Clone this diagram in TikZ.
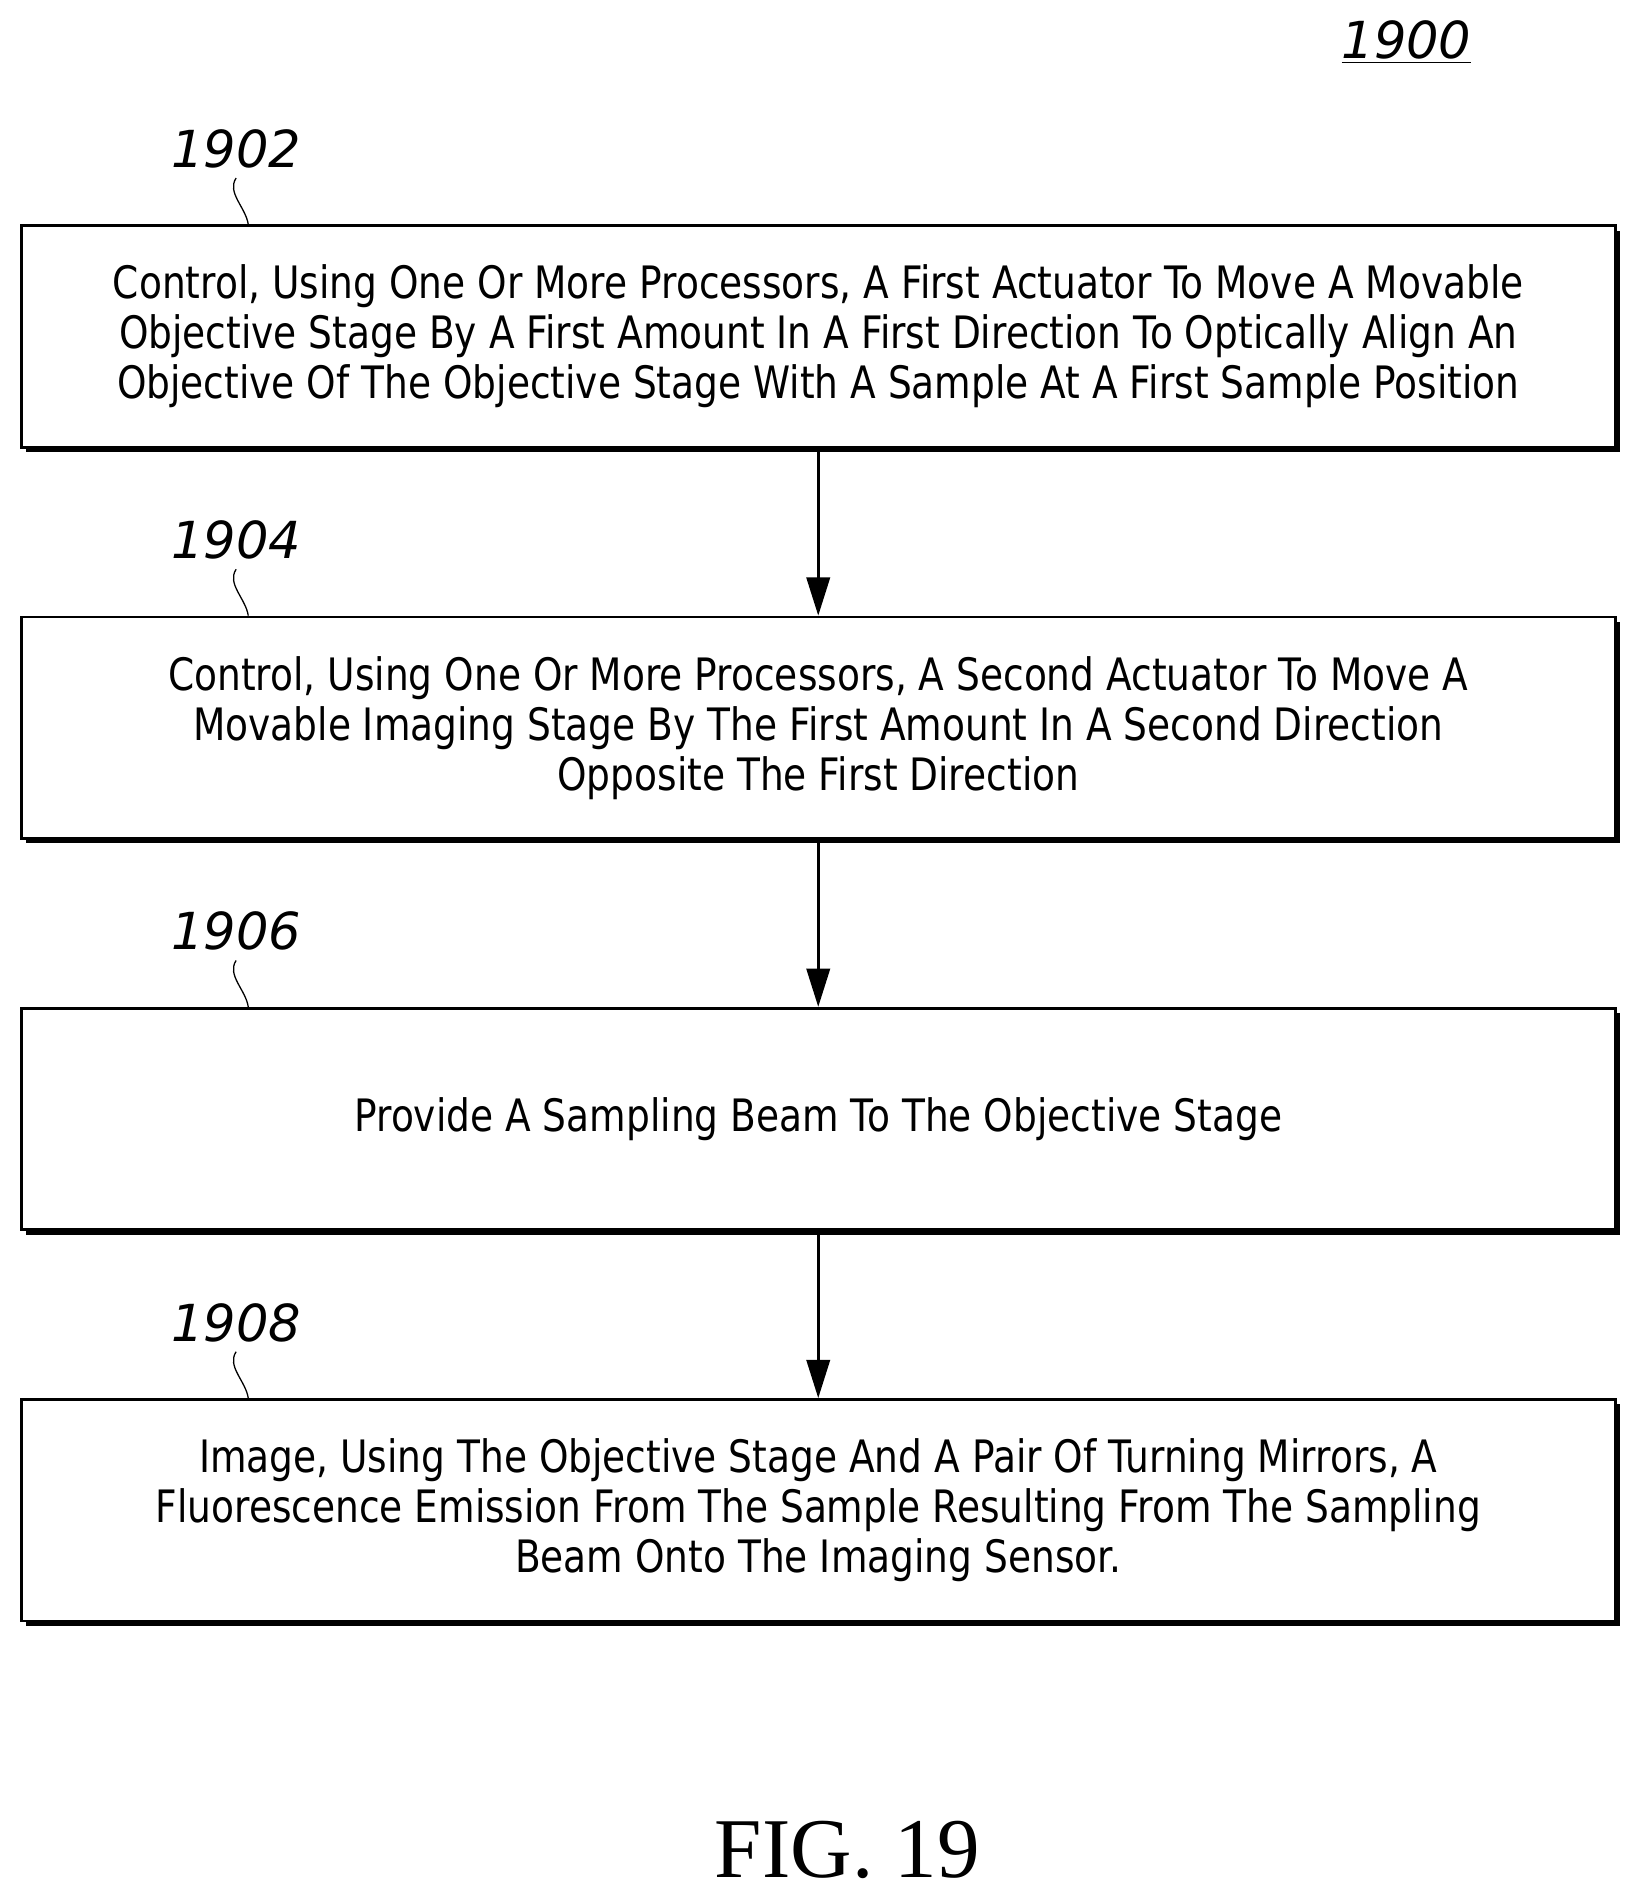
\documentclass[tikz,border=0pt]{standalone}
\usepackage{fontspec}
\setmainfont{DejaVu Sans}
\newfontfamily\boxfont[FakeStretch=0.84]{DejaVu Sans}
\newfontfamily\figfont{Liberation Serif}
\usetikzlibrary{positioning,shadows,arrows.meta}
\tikzset{
  stepbox/.style={draw, line width=1.3pt, fill=white, minimum width=26.34cm, minimum height=3.66cm,
    align=center, font=\boxfont\fontsize{21}{23.5}\selectfont,
    drop shadow={shadow xshift=0.08cm, shadow yshift=-0.08cm, fill=black, opacity=1}},
  reflabel/.style={font=\itshape\fontsize{24}{26}\selectfont},
  flow/.style={-{Triangle[width=11pt,length=18pt]}, line width=1.3pt}
}
\begin{document}
\begin{tikzpicture}[x=0.02cm,y=-0.02cm]
\useasboundingbox (0,0) rectangle (1360,1573);
\node[reflabel] (fig) at (1162,35) {\underline{1900}};

\node[stepbox] (s1) at (676,278) {Control, Using One Or More Processors, A First Actuator To Move A Movable\\ Objective Stage By A First Amount In A First Direction To Optically Align An\\ Objective Of The Objective Stage With A Sample At A First Sample Position};
\node[stepbox, below=2.76cm of s1] (s2) {Control, Using One Or More Processors, A Second Actuator To Move A\\ Movable Imaging Stage By The First Amount In A Second Direction\\ Opposite The First Direction};
\node[stepbox, below=2.76cm of s2] (s3) {Provide A Sampling Beam To The Objective Stage};
\node[stepbox, below=2.76cm of s3] (s4) {Image, Using The Objective Stage And A Pair Of Turning Mirrors, A\\ Fluorescence Emission From The Sample Resulting From The Sampling\\ Beam Onto The Imaging Sensor.};

\foreach \s/\n in {s1/1902,s2/1904,s3/1906,s4/1908}{
  \node[reflabel] (l\n) at ([xshift=-9.62cm,yshift=1.25cm]\s.north) {\n};
  \draw[line width=0.6pt] (l\n.south) ++(0,2) .. controls +(-8,12) and +(-2,-14) .. ([xshift=-9.42cm]\s.north);
}

\draw[flow] (s1) -- (s2);
\draw[flow] (s2) -- (s3);
\draw[flow] (s3) -- (s4);

\node[font=\figfont\fontsize{40}{44}\selectfont] (cap) at (700,1528) {FIG. 19};
\end{tikzpicture}
\end{document}
